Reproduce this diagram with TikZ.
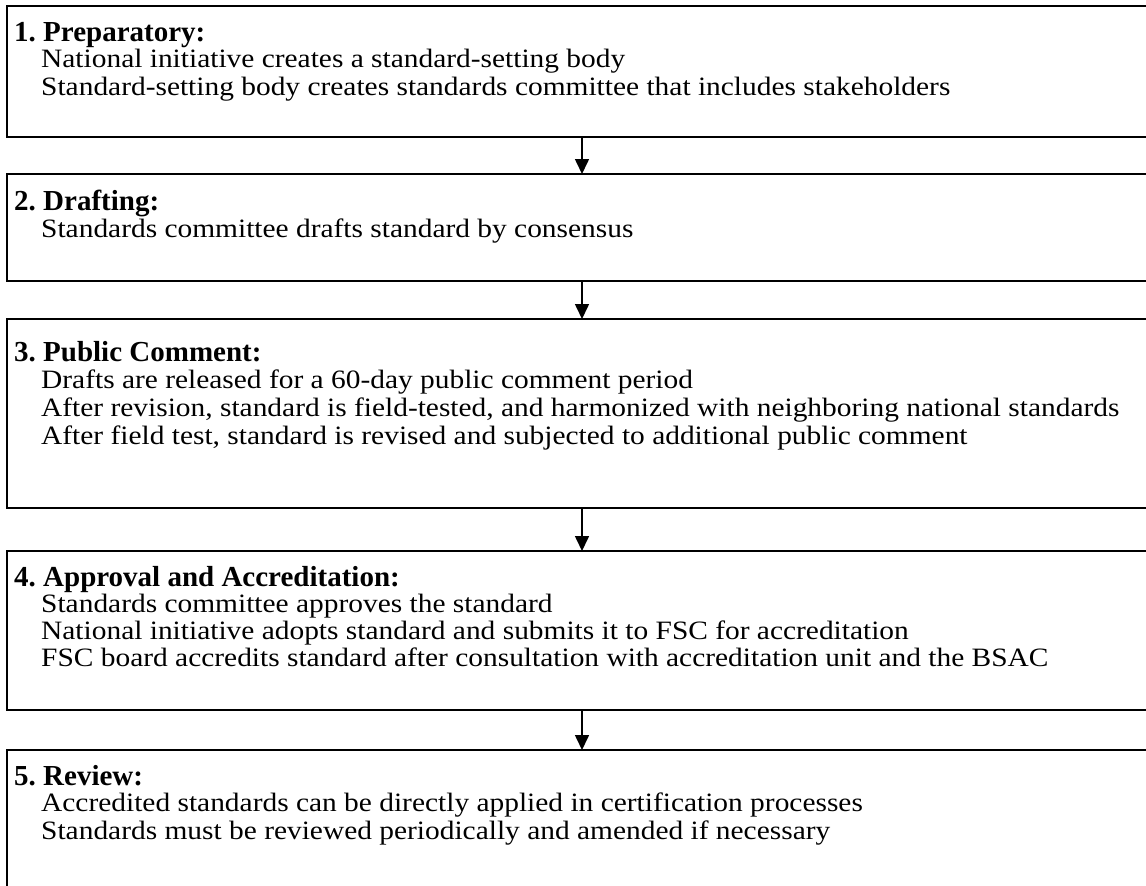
\documentclass[tikz,border=0pt]{standalone}
\usepackage{fontspec}
\setmainfont{Liberation Serif}
\newfontfamily\stagebodyfont{Liberation Serif}[FakeStretch=1.11]
\usetikzlibrary{arrows.meta,calc}
\frenchspacing
\tikzset{
  stagebox/.style={draw=black, line width=2pt, minimum width=1150pt, inner sep=0pt, outer sep=0pt},
  stagetitle/.style={anchor=base west, inner sep=0pt, font=\fontsize{29}{33}\selectfont\bfseries},
  stageline/.style={anchor=base west, inner sep=0pt, font=\stagebodyfont\fontsize{26.5}{30}\selectfont},
  flow/.style={line width=1.6pt, -{Triangle[width=14pt,length=15pt]}}
}
\begin{document}
\begin{tikzpicture}[x=1pt,y=1pt]
  \useasboundingbox (0,0) rectangle (1146,-886);
  \clip (0,0) rectangle (1146,-886);
  % stage frames (right side runs past the page edge)
  \node[stagebox, minimum height=131pt] (b1) at (582,-71.5) {};
  \node[stagebox, minimum height=107pt] (b2) at (582,-227.5) {};
  \node[stagebox, minimum height=189pt] (b3) at (582,-413.5) {};
  \node[stagebox, minimum height=159pt] (b4) at (582,-630.5) {};
  \node[stagebox, minimum height=160pt] (b5) at (582,-830) {};
  % stage 1
  \node[stagetitle] (t1) at (14,-41) {1. Preparatory:};
  \node[stageline] (l11) at (41,-67) {National initiative creates a standard-setting body};
  \node[stageline] (l12) at (41,-95) {Standard-setting body creates standards committee that includes stakeholders};
  % stage 2
  \node[stagetitle] (t2) at (14,-210) {2. Drafting:};
  \node[stageline] (l21) at (41,-237) {Standards committee drafts standard by consensus};
  % stage 3
  \node[stagetitle] (t3) at (14,-361) {3. Public Comment:};
  \node[stageline] (l31) at (41,-388) {Drafts are released for a 60-day public comment period};
  \node[stageline] (l32) at (41,-416) {After revision, standard is field-tested, and harmonized with neighboring national standards};
  \node[stageline] (l33) at (41,-444) {After field test, standard is revised and subjected to additional public comment};
  % stage 4
  \node[stagetitle] (t4) at (14,-586) {4. Approval and Accreditation:};
  \node[stageline] (l41) at (41,-612) {Standards committee approves the standard};
  \node[stageline] (l42) at (41,-639) {National initiative adopts standard and submits it to FSC for accreditation};
  \node[stageline] (l43) at (41,-666) {FSC board accredits standard after consultation with accreditation unit and the BSAC};
  % stage 5
  \node[stagetitle] (t5) at (14,-785) {5. Review:};
  \node[stageline] (l51) at (41,-811) {Accredited standards can be directly applied in certification processes};
  \node[stageline] (l52) at (41,-839) {Standards must be reviewed periodically and amended if necessary};
  % flow between stages
  \draw[flow] (b1.south) -- (b2.north);
  \draw[flow] (b2.south) -- (b3.north);
  \draw[flow] (b3.south) -- (b4.north);
  \draw[flow] (b4.south) -- (b5.north);
\end{tikzpicture}
\end{document}
